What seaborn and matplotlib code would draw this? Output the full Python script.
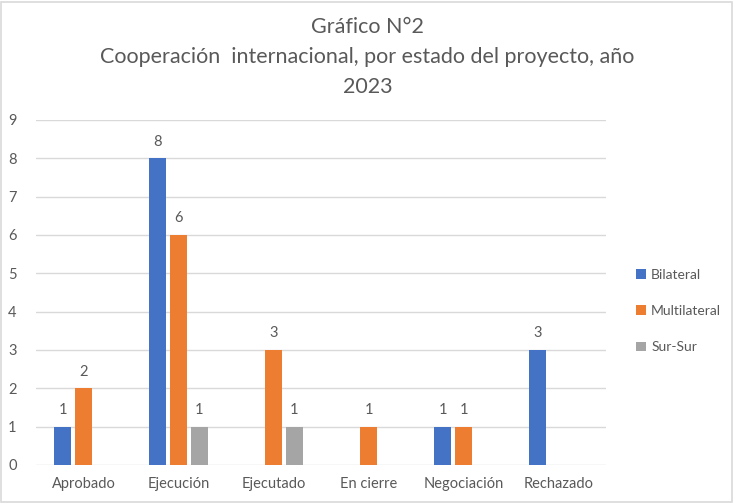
import matplotlib
matplotlib.use("Agg")
import matplotlib.pyplot as plt
import seaborn as sns
import pandas as pd
from matplotlib.patches import Rectangle, Patch

categories = ["Aprobado", "Ejecución", "Ejecutado", "En cierre", "Negociación", "Rechazado"]
series = ["Bilateral", "Multilateral", "Sur-Sur"]
bilateral = [1, 8, 0, 0, 1, 3]
multilateral = [2, 6, 3, 1, 1, 0]
sur_sur = [0, 1, 1, 0, 0, 0]
colors = ["#4472C4", "#ED7D31", "#A5A5A5"]

rows = []
for s, vals in zip(series, [bilateral, multilateral, sur_sur]):
    for c, v in zip(categories, vals):
        rows.append({"Estado": c, "Tipo": s, "Valor": v})
df = pd.DataFrame(rows)

sns.set_theme(style="white")
plt.rcParams['font.family'] = ['Lato', 'DejaVu Sans']
txt = "#595959"

fig = plt.figure(figsize=(7.35, 5.04), dpi=100)
ax = fig.add_axes([0.049, 0.0774, 0.7755, 0.6846])

sns.barplot(data=df, x="Estado", y="Valor", hue="Tipo", order=categories,
            hue_order=series, palette=colors, saturation=1, width=0.66, gap=0.18,
            linewidth=0, ax=ax, legend=False)

for cont in ax.containers:
    labels = [f"{int(b.get_height())}" if b.get_height() > 0 else "" for b in cont]
    ax.bar_label(cont, labels=labels, padding=7, color=txt, fontsize=10.5)
    for b in cont:
        if b.get_height() == 0:
            b.set_visible(False)

ax.set_xlim(-0.5, 5.5)
ax.set_ylim(0, 9)
ax.set_yticks(range(0, 10))
ax.yaxis.grid(True, color="#D9D9D9", linewidth=1)
ax.set_axisbelow(True)
for sp in ax.spines.values():
    sp.set_visible(False)
ax.tick_params(axis="both", length=0, colors=txt, labelsize=10.5)
ax.tick_params(axis="x", pad=9)
ax.tick_params(axis="y", pad=14)
ax.set_xlabel("")
ax.set_ylabel("")

fig.text(0.5, 0.887, "Gráfico N°2\nCooperación  internacional, por estado del proyecto, año\n2023",
         ha="center", va="center", fontsize=15.5, color=txt, linespacing=1.6)

handles = [Patch(facecolor=c, edgecolor="none") for c in colors]
leg = fig.legend(handles, series, loc="center left", bbox_to_anchor=(0.848, 0.383),
                 frameon=False, handlelength=0.7, handleheight=0.7, handletextpad=0.4,
                 labelspacing=1.75, fontsize=10)
for t in leg.get_texts():
    t.set_color(txt)

fig.patches.append(Rectangle((0.002, 0.003), 0.994, 0.994, transform=fig.transFigure,
                             fill=False, edgecolor="#D9D9D9", linewidth=1.2))

fig.savefig("out.png", dpi=100)
